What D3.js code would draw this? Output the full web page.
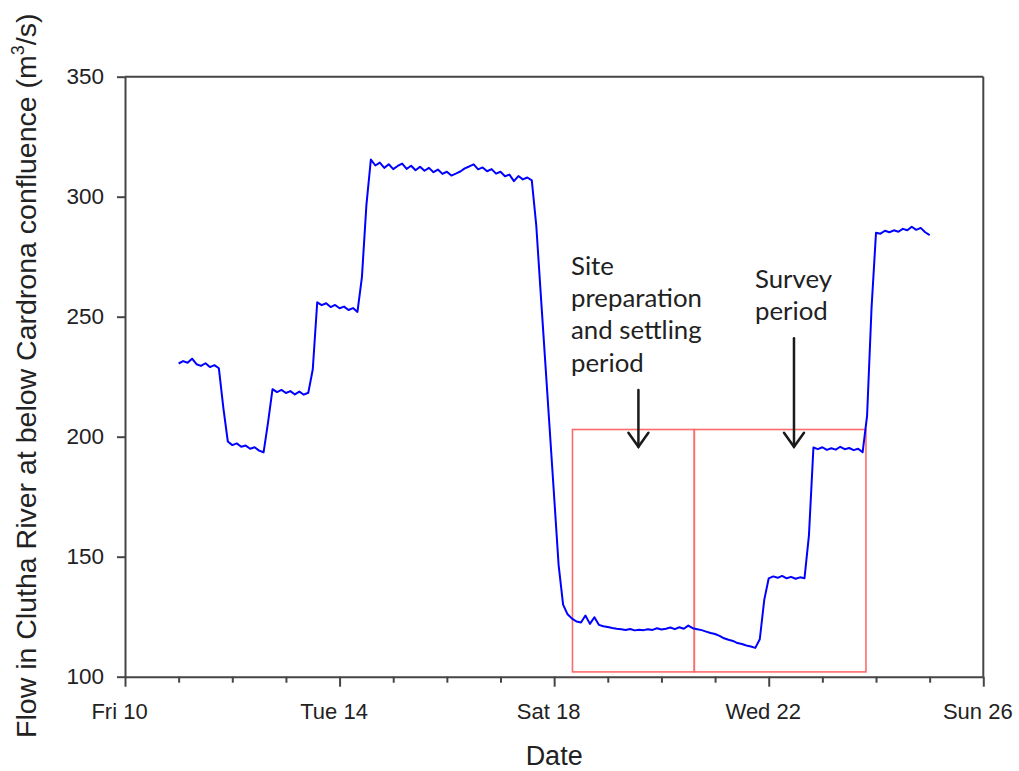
<!DOCTYPE html>
<html>
<head>
<meta charset="utf-8">
<script src="https://cdn.jsdelivr.net/npm/d3@7"></script>
<style>
  html, body { margin: 0; padding: 0; background: #fff; }
  svg { display: block; }
</style>
</head>
<body>
<svg id="chart" width="1019" height="771"></svg>
<script>
// ---------- DATA ----------
// hours since Fri 10 March 00:00
const hours = [
  24,26,28,30,32,34,36,38,40,42,44,46,48,50,52,54,56,58,60,62,
  64,66,68,70,72,74,76,78,80,82,84,86,88,90,92,94,96,98,100,102,
  104,106,108,110,112,114,116,118,120,122,124,126,128,130,132,134,136,138,140,142,
  144,146,148,150,152,154,156,158,160,162,164,166,168,170,172,174,176,178,180,182,
  184,186,188,190,192,194,196,198,200,202,204,206,208,210,212,214,216,218,220,222,
  224,226,228,230,232,234,236,238,240,242,244,246,248,250,252,254,256,258,260,262,
  264,266,268,270,272,274,276,278,280,282,284,286,288,290,292,294,296,298,300,302,
  304,306,308,310,312,314,316,318,320,322,324,326,328,330,332,334,336,338,340,342,
  344,346,348,350,352,354,356,358,360
];
// flow, m3/s
const flow = [
  230.5,231.5,230.8,232.5,230.2,229.5,230.6,229.0,229.8,228.5,212.0,198.0,196.5,197.2,195.8,196.3,195.0,195.6,194.2,193.5,
  206.0,219.8,218.6,219.5,218.2,219.0,217.6,218.8,217.5,218.3,228.0,256.0,254.8,255.6,254.0,254.9,253.5,254.2,252.8,253.6,
  252.0,266.5,296.5,315.5,313.0,314.2,312.0,313.5,311.5,312.8,313.8,311.6,312.9,311.0,312.5,310.8,312.0,310.2,311.3,309.5,
  310.4,308.8,309.6,310.5,311.8,312.6,313.5,311.4,312.2,310.6,311.5,309.6,310.4,308.5,309.2,306.5,308.6,307.2,308.0,306.8,
  288.0,259.5,231.4,203.2,175.0,146.5,130.0,126.0,124.2,123.0,122.6,125.5,122.0,124.8,121.6,121.0,120.7,120.3,120.0,119.8,
  119.5,119.9,119.3,119.6,119.4,119.8,119.5,120.2,119.7,120.0,120.5,119.8,120.6,120.0,121.3,120.2,119.8,119.4,118.8,118.2,
  117.8,117.0,116.0,115.4,114.9,114.0,113.6,113.0,112.6,112.0,115.6,132.0,141.0,141.8,141.2,142.0,141.0,141.6,140.8,141.4,
  141.0,159.0,195.5,194.8,195.6,194.5,195.2,194.6,195.8,194.8,195.3,194.4,195.0,193.5,208.7,253.6,285.0,284.6,285.8,285.2,
  286.0,285.4,286.6,286.0,287.5,286.2,287.0,285.2,284.0
];

const yTicks = [100, 150, 200, 250, 300, 350];
const majorDayLabels = ["Fri 10", "Tue 14", "Sat 18", "Wed 22", "Sun 26"];

// annotation boxes: [startHour, endHour, lowFlow, highFlow]
const boxStartHours = [200.2, 254.7];
const boxEndHours = [254.7, 331.5];
const boxLow = 102;
const boxHigh = 203;

// annotation arrows: hour, top flow, bottom flow
const arrowHours = [229.7, 299.3];
const arrowTop = [219.5, 241];
const arrowBottom = [195.8, 195.8];

const siteText = ["Site", "preparation", "and settling", "period"];
const surveyText = ["Survey", "period"];

// ---------- CHART ----------
const svg = d3.select("#chart");
const t0 = Date.UTC(2017, 2, 10);
const toDate = h => new Date(t0 + h * 3600 * 1000);

const mLeft = 125, mRight = 983.3, mTop = 76.7, mBottom = 676.7;

const x = d3.scaleUtc()
  .domain([toDate(0), toDate(16 * 24)])
  .range([mLeft, mRight]);
const y = d3.scaleLinear().domain([100, 350]).range([mBottom, mTop]);

const axisColor = "#454545";
const tickFont = "Liberation Sans, Arial, sans-serif";

// frame top & right
svg.append("line").attr("x1", mLeft).attr("x2", mRight).attr("y1", mTop).attr("y2", mTop)
  .attr("stroke", axisColor).attr("stroke-width", 2);
svg.append("line").attr("x1", mRight).attr("x2", mRight).attr("y1", mTop).attr("y2", mBottom)
  .attr("stroke", axisColor).attr("stroke-width", 2);

// red boxes
const boxes = boxStartHours.map((s, i) => ({ s, e: boxEndHours[i] }));
svg.append("g").selectAll("rect").data(boxes).join("rect")
  .attr("x", d => x(toDate(d.s)))
  .attr("width", d => x(toDate(d.e)) - x(toDate(d.s)))
  .attr("y", y(boxHigh))
  .attr("height", y(boxLow) - y(boxHigh))
  .attr("fill", "none")
  .attr("stroke", "#ff6b6b")
  .attr("stroke-width", 1.6);

// flow line
const series = hours.map((h, i) => ({ t: toDate(h), v: flow[i] }));
svg.append("path")
  .datum(series)
  .attr("fill", "none")
  .attr("stroke", "#0000ff")
  .attr("stroke-width", 2)
  .attr("stroke-linejoin", "round")
  .attr("d", d3.line().x(d => x(d.t)).y(d => y(d.v)));

// x axis
const dayTicks = d3.range(0, 17).map(d => toDate(d * 24));
const xAxis = d3.axisBottom(x)
  .tickValues(dayTicks)
  .tickSize(6)
  .tickSizeOuter(0)
  .tickPadding(21)
  .tickFormat((d, i) => (i % 4 === 0 ? majorDayLabels[i / 4] : ""));
const gx = svg.append("g").attr("transform", `translate(0,${mBottom})`).call(xAxis);
gx.select(".domain").attr("stroke", axisColor).attr("stroke-width", 2);
gx.selectAll(".tick line").attr("stroke", axisColor).attr("stroke-width", 2)
  .attr("y2", (d, i) => (i % 4 === 0 ? 10 : 6));
gx.selectAll(".tick text")
  .attr("font-family", tickFont).attr("font-size", 22).attr("fill", "#222")
  .attr("dx", -6);

// y axis
const yAxis = d3.axisLeft(y).tickValues(yTicks).tickSize(8).tickSizeOuter(0).tickPadding(13);
const gy = svg.append("g").attr("transform", `translate(${mLeft},0)`).call(yAxis);
gy.select(".domain").attr("stroke", axisColor).attr("stroke-width", 2);
gy.selectAll(".tick line").attr("stroke", axisColor).attr("stroke-width", 2);
gy.selectAll(".tick text")
  .attr("font-family", tickFont).attr("font-size", 22.5).attr("fill", "#222");

// axis titles
svg.append("text")
  .attr("x", (mLeft + mRight) / 2).attr("y", 765)
  .attr("text-anchor", "middle")
  .attr("font-family", tickFont).attr("font-size", 27).attr("fill", "#222")
  .text("Date");

const yt = svg.append("text")
  .attr("transform", `translate(36,${(mTop + mBottom) / 2 - 1}) rotate(-90)`)
  .attr("text-anchor", "middle")
  .attr("font-family", tickFont).attr("font-size", 28.5).attr("fill", "#222");
yt.append("tspan").text("Flow in Clutha River at below Cardrona confluence (m");
yt.append("tspan").attr("font-size", 18).attr("dy", -12).text("3");
yt.append("tspan").attr("dy", 12).text("/s)");

// arrows
const arrowColor = "#1a1a1a";
const arrows = arrowHours.map((h, i) => ({ h, t: arrowTop[i], b: arrowBottom[i] }));
const ga = svg.append("g").attr("stroke", arrowColor).attr("stroke-width", 2.5)
  .attr("fill", "none").attr("stroke-linecap", "round");
arrows.forEach(a => {
  const ax = x(toDate(a.h));
  const yb = y(a.b);
  ga.append("line").attr("x1", ax).attr("x2", ax).attr("y1", y(a.t)).attr("y2", yb);
  ga.append("path").attr("d", `M${ax - 10},${yb - 14} L${ax},${yb} L${ax + 10},${yb - 14}`);
});

// annotation text
const annFont = "Lato, 'Open Sans', sans-serif";
const siteG = svg.append("text")
  .attr("font-family", annFont).attr("font-size", 25.8).attr("fill", "#222");
siteText.forEach((s, i) => {
  siteG.append("tspan").attr("x", 571).attr("y", 275 + i * 32.2).text(s);
});
const survG = svg.append("text")
  .attr("font-family", annFont).attr("font-size", 25.8).attr("fill", "#222");
surveyText.forEach((s, i) => {
  survG.append("tspan").attr("x", 755).attr("y", 288 + i * 32.2).text(s);
});
</script>
</body>
</html>
